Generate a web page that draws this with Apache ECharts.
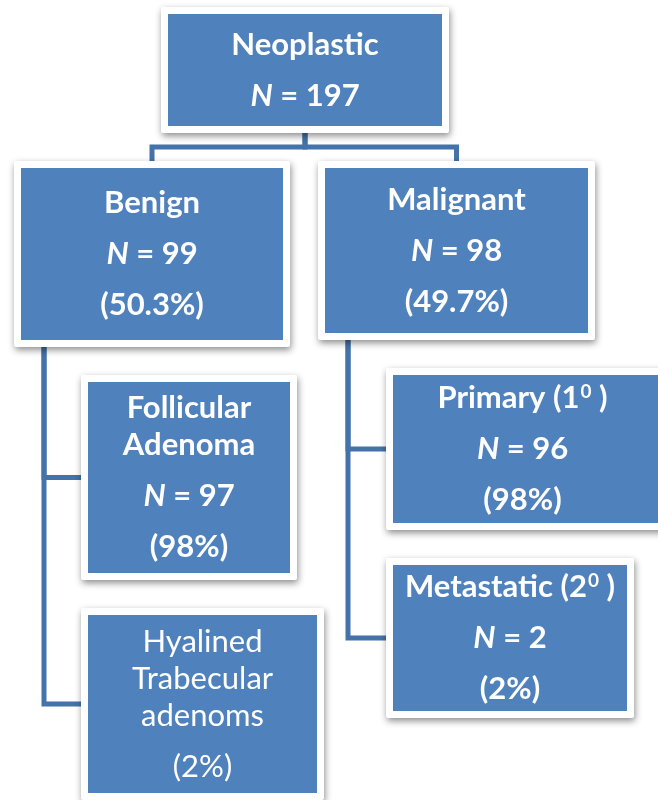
<!DOCTYPE html>
<html><head><meta charset="utf-8">
<script src="https://cdn.jsdelivr.net/npm/echarts@6/dist/echarts.min.js"></script>
<style>html,body{margin:0;padding:0;background:#fff}#c{width:658px;height:800px}</style>
</head><body><div id="c"></div>
<script>
// ---- data ----
const nodeTitles = [['Neoplastic'], ['Benign'], ['Malignant'], ['Follicular', 'Adenoma'], ['Hyalined', 'Trabecular', 'adenoms'], ['Primary (1⁰ )'], ['Metastatic (2⁰ )']];
const nodeCounts = [197, 99, 98, 97, null, 96, 2];
const nodePercents = [null, '50.3%', '49.7%', '98%', '2%', '98%', '2%'];
const nodeParents = [-1, 0, 0, 1, 1, 2, 2];

// ---- layout / style (not data) ----
const boxRects = [[168, 14, 442, 126], [21, 168, 283, 340], [325, 168, 588, 333], [88, 382, 290, 573], [88, 615, 317, 793], [393, 375, 670, 523], [393, 565, 627, 711]];
const boxBold = [true, true, true, true, false, true, true];
const BORDER = 7, TITLE_PITCH = 37, BODY_PITCH = 51, TRUNK_OFFSET = 30;
const BLUE = '#4f81bd', LINE = '#4373a8', FONT = 'Lato', FS = 31;

function outer(i) { const r = boxRects[i]; return [r[0] - BORDER, r[1] - BORDER, r[2] + BORDER, r[3] + BORDER]; }

function titleRich(t) {
  const parts = t.split('⁰');
  if (parts.length === 1) return '{r|' + t + '}';
  return '{r|' + parts[0] + '}{s|0}{r|' + parts[1] + '}';
}

function renderBox(params, api) {
  const i = api.value(0);
  const r = boxRects[i], o = outer(i);
  const a = api.coord([r[0], r[1]]), b = api.coord([r[2], r[3]]);
  const oa = api.coord([o[0], o[1]]), ob = api.coord([o[2], o[3]]);
  const weight = boxBold[i] ? 'bold' : 'normal';
  const lines = [];
  nodeTitles[i].forEach(t => lines.push({ text: titleRich(t), kind: 'title' }));
  if (nodeCounts[i] != null) lines.push({ text: '{i|N}{r| = ' + nodeCounts[i] + '}', kind: 'body' });
  if (nodePercents[i] != null) lines.push({ text: '{r|(' + nodePercents[i] + ')}', kind: 'body' });
  const ys = [0];
  for (let k = 1; k < lines.length; k++) {
    const pitch = (lines[k].kind === 'title' && lines[k - 1].kind === 'title') ? TITLE_PITCH : BODY_PITCH;
    ys.push(ys[k - 1] + pitch);
  }
  const cy = (a[1] + b[1]) / 2, cx = (a[0] + Math.min(b[0], 658)) / 2 + (i === 5 ? -3 : 0);
  const shift = cy - ys[ys.length - 1] / 2;
  const rich = {
    r: { fontFamily: FONT, fontSize: FS, fontWeight: weight, fill: '#fff', lineHeight: 36 },
    i: { fontFamily: FONT, fontSize: FS, fontWeight: weight, fontStyle: 'italic', fill: '#fff', lineHeight: 36 },
    s: { fontFamily: FONT, fontSize: 19, fontWeight: weight, fill: '#fff', lineHeight: 36, verticalAlign: 'top', padding: [2, 0, 0, 1] }
  };
  const children = [
    { type: 'rect', shape: { x: oa[0], y: oa[1], width: ob[0] - oa[0], height: ob[1] - oa[1], r: 2 },
      style: { fill: '#fff', shadowBlur: 7, shadowOffsetX: 1, shadowOffsetY: 3, shadowColor: 'rgba(0,0,0,0.45)' } },
    { type: 'rect', shape: { x: a[0], y: a[1], width: b[0] - a[0], height: b[1] - a[1] }, style: { fill: BLUE } }
  ];
  lines.forEach((ln, k) => {
    children.push({ type: 'text', style: { x: cx, y: ys[k] + shift, text: ln.text, rich: rich, align: 'center', verticalAlign: 'middle', fill: '#fff', fontFamily: FONT, fontSize: FS, fontWeight: weight } });
  });
  return { type: 'group', children: children };
}

function renderLink(params, api) {
  const c = api.value(0), p = nodeParents[c];
  const po = outer(p), co = outer(c);
  let pts;
  if (nodeParents[p] === -1) {
    const px = (po[0] + po[2]) / 2, cxx = (co[0] + co[2]) / 2, midY = (po[3] + co[1]) / 2;
    pts = [[px, po[3]], [px, midY], [cxx, midY], [cxx, co[1]]];
  } else {
    const tx = po[0] + TRUNK_OFFSET, cyy = (co[1] + co[3]) / 2;
    pts = [[tx, po[3]], [tx, cyy], [co[0], cyy]];
  }
  return { type: 'polyline', shape: { points: pts.map(q => api.coord(q)) }, style: { stroke: LINE, lineWidth: 5, fill: null, lineJoin: 'miter' } };
}

const links = nodeParents.map((p, i) => p >= 0 ? [i] : null).filter(Boolean);

const chart = echarts.init(document.getElementById('c'), null, { renderer: 'canvas' });
chart.setOption({
  animation: false,
  grid: { left: 0, right: 0, top: 0, bottom: 0 },
  xAxis: { type: 'value', min: 0, max: 658, show: false },
  yAxis: { type: 'value', min: 0, max: 800, inverse: true, show: false },
  series: [
    { type: 'custom', renderItem: renderLink, data: links, clip: false, encode: { x: -1, y: -1 } },
    { type: 'custom', renderItem: renderBox, data: nodeTitles.map((t, i) => [i]), clip: false, encode: { x: -1, y: -1 } }
  ]
});
</script></body></html>
